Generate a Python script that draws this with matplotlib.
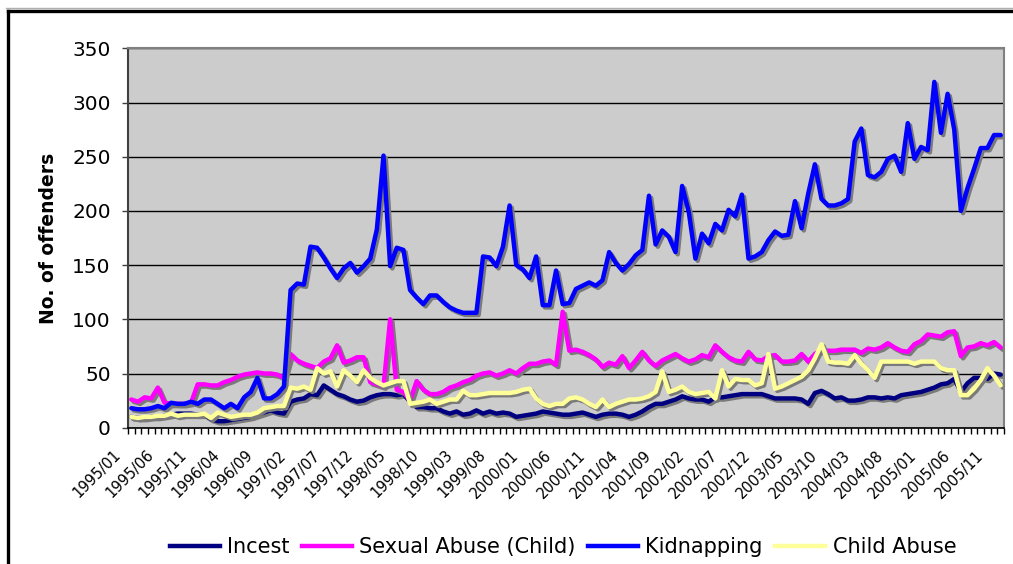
import numpy as np
import pandas as pd
import matplotlib
matplotlib.use('Agg')
import matplotlib.pyplot as plt
import matplotlib.patheffects as pe
import matplotlib.transforms as mtransforms
from matplotlib.lines import Line2D

# monthly categories 1995/01 .. 2005/12
months = list(pd.period_range('1995-01', '2005-12', freq='M').strftime('%Y/%m'))

incest = [10, 9, 9, 10, 10, 11, 12, 13, 13, 13, 12, 12, 8, 6, 6, 7, 8, 9, 10, 12,
          14, 16, 14, 13, 24, 26, 27, 31, 30, 39, 35, 31, 29, 26, 24, 25, 28, 30, 31, 31,
          30, 31, 24, 19, 19, 18, 18, 15, 13, 15, 12, 13, 16, 13, 15, 13, 14, 13, 10, 11,
          12, 13, 15, 14, 13, 12, 12, 13, 14, 12, 10, 12, 13, 13, 12, 10, 12, 15, 19, 22,
          22, 24, 26, 29, 27, 26, 26, 24, 28, 28, 29, 30, 31, 31, 31, 31, 29, 27, 27, 27,
          27, 26, 22, 32, 34, 31, 27, 28, 25, 25, 26, 28, 28, 27, 28, 27, 30, 31, 32, 33,
          35, 37, 40, 41, 45, 33, 41, 46, 46, 45, 50, 49]

sexual_abuse = [26, 24, 28, 27, 37, 23, 22, 22, 22, 23, 40, 40, 39, 39, 42, 44, 47, 49, 50, 51,
                50, 50, 49, 46, 68, 62, 59, 57, 55, 61, 64, 76, 60, 62, 65, 65, 42, 40, 38, 100,
                35, 33, 25, 43, 35, 31, 31, 33, 37, 39, 42, 44, 48, 50, 51, 48, 50, 53, 50, 55,
                59, 59, 61, 62, 58, 107, 71, 72, 70, 67, 63, 56, 60, 58, 66, 55, 62, 70, 62, 57,
                62, 65, 68, 64, 61, 63, 67, 65, 76, 70, 65, 62, 61, 70, 63, 62, 66, 67, 61, 61,
                62, 68, 61, 68, 72, 71, 71, 72, 72, 72, 69, 73, 72, 74, 78, 74, 71, 70, 77, 80,
                86, 85, 84, 88, 89, 66, 74, 75, 78, 76, 79, 74]

kidnapping = [18, 17, 17, 18, 20, 18, 23, 22, 22, 24, 22, 26, 26, 22, 18, 22, 18, 28, 33, 46,
              27, 27, 31, 38, 127, 133, 132, 167, 166, 157, 147, 138, 147, 152, 143, 149, 156, 183, 251, 149,
              166, 164, 127, 120, 114, 122, 122, 116, 111, 108, 106, 106, 106, 158, 157, 149, 167, 205, 150, 146,
              138, 158, 113, 113, 145, 114, 115, 128, 131, 134, 131, 136, 162, 152, 145, 151, 159, 164, 214, 169,
              182, 176, 162, 223, 199, 156, 179, 170, 188, 182, 201, 195, 215, 156, 158, 162, 173, 181, 177, 178,
              209, 184, 216, 243, 211, 205, 205, 207, 211, 264, 276, 233, 231, 236, 248, 251, 236, 281, 248, 259,
              256, 319, 272, 308, 275, 200, 221, 239, 258, 258, 270, 270]

child_abuse = [10, 9, 10, 10, 11, 11, 13, 11, 12, 12, 12, 13, 9, 14, 12, 10, 11, 12, 12, 14,
               18, 19, 20, 20, 37, 36, 38, 35, 55, 50, 52, 38, 53, 48, 42, 53, 46, 42, 39, 41,
               43, 43, 22, 23, 24, 26, 22, 24, 26, 26, 34, 30, 30, 31, 32, 32, 32, 32, 33, 35,
               36, 27, 22, 20, 22, 22, 27, 28, 26, 22, 19, 26, 19, 22, 24, 26, 26, 27, 29, 33,
               52, 33, 35, 38, 33, 31, 32, 33, 27, 53, 38, 45, 44, 44, 39, 41, 68, 36, 38, 41,
               44, 47, 53, 64, 77, 61, 60, 60, 59, 67, 59, 53, 46, 61, 61, 61, 61, 61, 59, 61,
               61, 61, 55, 53, 53, 30, 30, 36, 44, 55, 48, 39]

series_names = ['Incest', 'Sexual Abuse (Child)', 'Kidnapping', 'Child Abuse']
series_colors = ['#000080', '#ff00ff', '#0000ff', '#ffff99']

x = np.arange(len(months))

fig = plt.figure(figsize=(10.13, 5.64), dpi=100)
W, H = 1013, 564
ax = fig.add_axes([128 / W, 1 - 427.7 / H, (1004 - 128) / W, (427.7 - 48.3) / H])
ax.set_facecolor('#cccccc')

shadow = [pe.SimpleLineShadow(offset=(1.6, -1.6), shadow_color='#7a7a7a', alpha=1), pe.Normal()]
for vals, name, col in zip([incest, sexual_abuse, kidnapping, child_abuse], series_names, series_colors):
    ax.plot(x, vals, color=col, lw=3.2, solid_joinstyle='round', solid_capstyle='round',
            path_effects=shadow, label=name)

ax.set_xlim(-0.5, len(months) - 0.5)
ax.set_ylim(0, 350)
ax.set_yticks(range(0, 351, 50))
ax.yaxis.grid(True, color='black', lw=1)
ax.set_axisbelow(True)

ax.set_xticks(x[::5])
ax.set_xticklabels(months[::5], rotation=45, ha='right', va='top', fontsize=10.5)
ax.tick_params(axis='x', which='major', length=0, pad=12)
ax.set_xticks(np.arange(-0.5, len(months), 1), minor=True)
ax.tick_params(axis='x', which='minor', length=4.5, width=1, direction='out', color='black')
ax.tick_params(axis='y', labelsize=14.5, length=4.5, width=1, pad=8, color='#404040')

# excel puts the rotated labels a bit left of the category centre
shift = mtransforms.ScaledTranslation(-8 / 100, -3 / 100, fig.dpi_scale_trans)
for lbl in ax.get_xticklabels():
    lbl.set_transform(lbl.get_transform() + shift)

for s in ['top', 'right']:
    ax.spines[s].set_color('#808080')
    ax.spines[s].set_linewidth(1.5)
ax.spines['left'].set_color('#404040')
ax.spines['left'].set_linewidth(1.5)
ax.spines['bottom'].set_color('black')
ax.spines['bottom'].set_linewidth(1.2)

ax.set_ylabel('No. of offenders', fontsize=13.5, fontweight='bold')
ax.yaxis.set_label_coords(-0.08, 0.5)

handles = [Line2D([], [], color=c, lw=3.2) for c in series_colors]
fig.legend(handles, series_names, loc='center', bbox_to_anchor=(563 / W, 1 - 547 / H), ncol=4,
           frameon=False, fontsize=15, handlelength=2.4, handletextpad=0.35, columnspacing=0.6)

# chart area frame (partly cut off at right and bottom)
fig.add_artist(Line2D([6 / W, 1.01], [1 - 7.5 / H] * 2, transform=fig.transFigure, color='#b0b0b0', lw=1))
fig.add_artist(Line2D([8 / W, 1.01], [1 - 10.8 / H] * 2, transform=fig.transFigure, color='black', lw=2.4))
fig.add_artist(Line2D([8 / W] * 2, [1 - 10.8 / H, -0.01], transform=fig.transFigure, color='black', lw=2.4))

fig.savefig('out.png', dpi=100)
